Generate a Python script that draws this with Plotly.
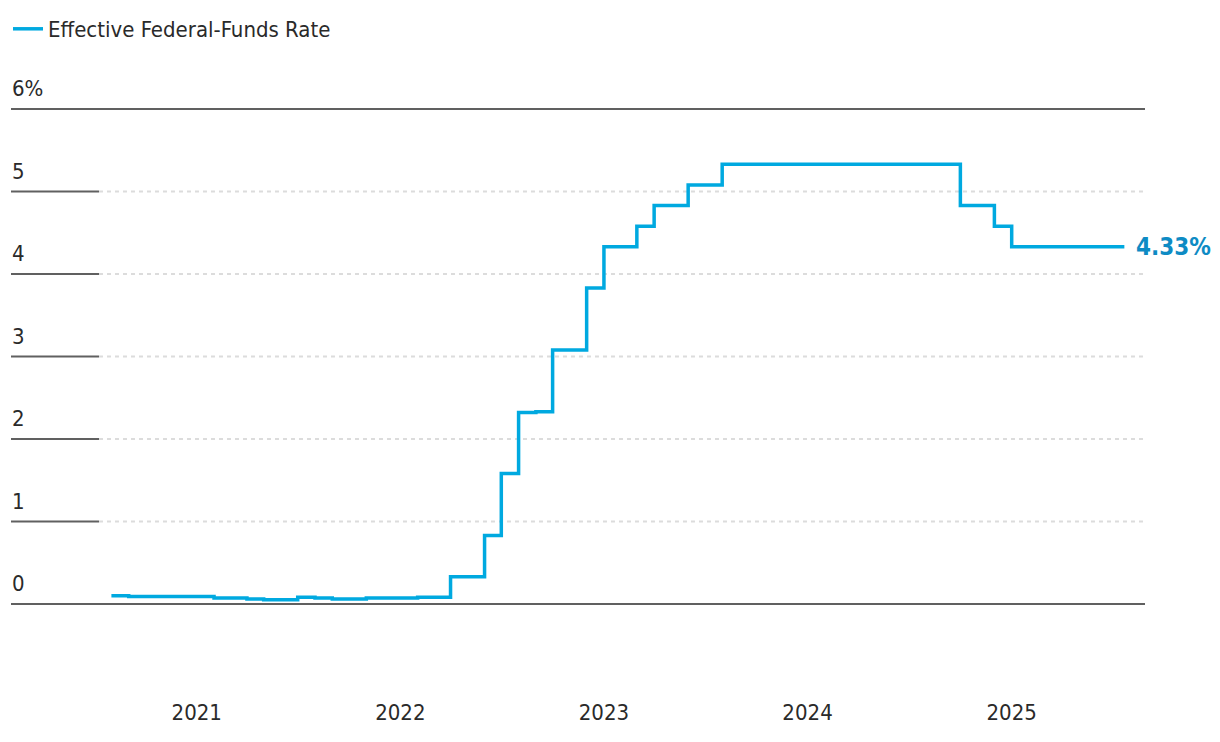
import pandas as pd
import plotly.graph_objects as go

# ---- data (first-of-month effective federal-funds rate, %) ----
series_name = "Effective Federal-Funds Rate"
month_starts = pd.date_range("2020-08-01", "2025-07-01", freq="MS").strftime("%Y-%m-%d").tolist()
last_obs_date = "2025-07-22"
dates = month_starts + [last_obs_date]

rates_2020 = [0.10, 0.09, 0.09, 0.09, 0.09]                      # Aug-Dec
rates_2021 = [0.09, 0.07, 0.07, 0.06, 0.05, 0.05,
              0.08, 0.07, 0.06, 0.06, 0.07, 0.07]
rates_2022 = [0.07, 0.08, 0.08, 0.33, 0.33, 0.83,
              1.58, 2.32, 2.33, 3.08, 3.08, 3.83]
rates_2023 = [4.33, 4.33, 4.58, 4.83, 4.83, 5.08,
              5.08, 5.33, 5.33, 5.33, 5.33, 5.33]
rates_2024 = [5.33, 5.33, 5.33, 5.33, 5.33, 5.33,
              5.33, 5.33, 5.33, 4.83, 4.83, 4.58]
rates_2025 = [4.33, 4.33, 4.33, 4.33, 4.33, 4.33, 4.33]          # Jan-Jul
rates_last = [4.33]
rates = rates_2020 + rates_2021 + rates_2022 + rates_2023 + rates_2024 + rates_2025 + rates_last

y_tick_vals = [0, 1, 2, 3, 4, 5, 6]
y_tick_text = ["0", "1", "2", "3", "4", "5", "6%"]
solid_levels = [0, 6]
x_range = ["2020-02-03", "2025-08-28"]
y_range = [-0.05, 6.45]

# ---- style ----
FONT = "Liberation Sans Narrow, DejaVu Sans Condensed, Arial Narrow, sans-serif"
LINE_COLOR = "#00A9E0"
LABEL_COLOR = "#0E8BC4"
TEXT_COLOR = "#2a2a2a"
AXIS_DARK = "#606060"
GRID_LIGHT = "#dcdcdc"
TICK_STUB = 0.0776  # paper fraction of the solid stub at left of each gridline

fig = go.Figure()
fig.add_trace(go.Scatter(
    x=dates, y=rates, mode="lines", name=series_name,
    line=dict(color=LINE_COLOR, width=3.5, shape="hv"),
    hoverinfo="x+y",
))

shapes = []
for v in y_tick_vals:
    if v in solid_levels:
        shapes.append(dict(type="line", xref="paper", yref="y", x0=0, x1=1, y0=v, y1=v,
                           line=dict(color=AXIS_DARK, width=2), layer="below"))
    else:
        shapes.append(dict(type="line", xref="paper", yref="y", x0=0, x1=TICK_STUB, y0=v, y1=v,
                           line=dict(color=AXIS_DARK, width=2), layer="below"))
        shapes.append(dict(type="line", xref="paper", yref="y", x0=TICK_STUB, x1=1, y0=v, y1=v,
                           line=dict(color=GRID_LIGHT, width=2, dash="4px,4px"), layer="below"))

fig.add_annotation(
    x=dates[-1], y=rates[-1], xref="x", yref="y",
    text=f"<b>{rates[-1]:.2f}%</b>", showarrow=False,
    xanchor="left", yanchor="middle", xshift=10, yshift=0,
    font=dict(family=FONT, size=24, color=LABEL_COLOR),
)

fig.update_layout(
    width=1212, height=726,
    margin=dict(l=3, r=75, t=64, b=126),
    paper_bgcolor="white", plot_bgcolor="white",
    font=dict(family=FONT, size=22, color=TEXT_COLOR),
    shapes=shapes,
    showlegend=True,
    legend=dict(orientation="h", x=-0.0044, xanchor="left", y=1.0, yref="container",
                yanchor="top", font=dict(family=FONT, size=22, color=TEXT_COLOR),
                bgcolor="rgba(0,0,0,0)", itemwidth=30, tracegroupgap=0),
    xaxis=dict(
        type="date", range=x_range, showgrid=False, zeroline=False, showline=False,
        tickmode="linear", tick0="2021-01-01", dtick="M12", tickformat="%Y",
        ticks="", ticklabelstandoff=89,
        tickfont=dict(family=FONT, size=22, color=TEXT_COLOR),
    ),
    yaxis=dict(
        range=y_range, showgrid=False, zeroline=False, showline=False,
        tickmode="array", tickvals=y_tick_vals, ticktext=y_tick_text,
        ticklabelposition="inside top", ticks="", ticklabelshift=-5, ticklabelstandoff=-2,
        tickfont=dict(family=FONT, size=22, color=TEXT_COLOR),
    ),
    hovermode="x",
)

fig.write_html("out.html")
